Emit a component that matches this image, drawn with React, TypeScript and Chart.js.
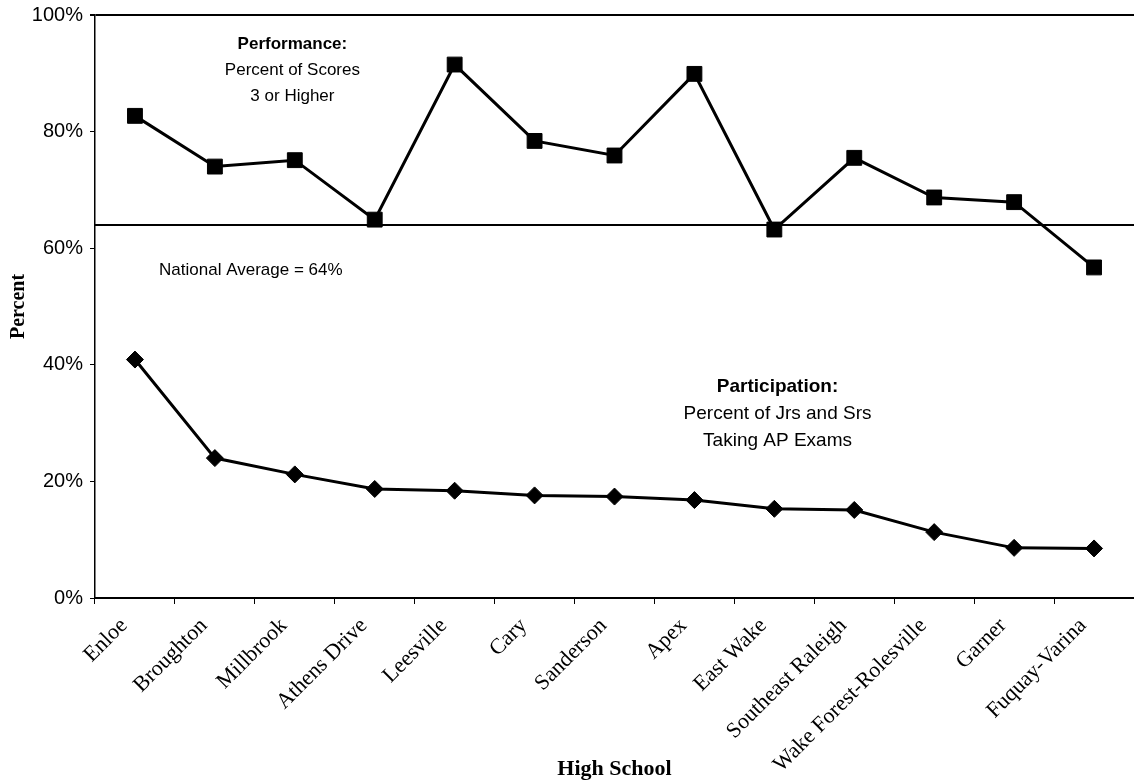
import React, { useEffect, useRef } from 'react';
import { Chart, registerables } from 'chart.js';

Chart.register(...registerables);

const schools = [
  'Enloe',
  'Broughton',
  'Millbrook',
  'Athens Drive',
  'Leesville',
  'Cary',
  'Sanderson',
  'Apex',
  'East Wake',
  'Southeast Raleigh',
  'Wake Forest-Rolesville',
  'Garner',
  'Fuquay-Varina',
];

const performance = [82.7, 74.0, 75.1, 64.9, 91.5, 78.4, 75.9, 89.9, 63.2, 75.5, 68.7, 67.9, 56.7];
const participation = [40.9, 24.0, 21.2, 18.7, 18.4, 17.6, 17.4, 16.8, 15.3, 15.1, 11.3, 8.6, 8.5];
const nationalAverage = 64;

const yTicks = [0, 20, 40, 60, 80, 100];

const performanceNote = ['Performance:', 'Percent of Scores', '3 or Higher'];
const participationNote = ['Participation:', 'Percent of Jrs and Srs', 'Taking AP Exams'];
const averageNote = 'National Average = ' + nationalAverage + '%';

const SANS = '"Liberation Sans", Arial, sans-serif';
const SERIF = '"Liberation Serif", "Times New Roman", serif';

const notesPlugin = {
  id: 'notes',
  beforeDatasetsDraw(chart: any) {
    const { ctx, chartArea, scales } = chart;
    const y = scales.y;
    const py = y.getPixelForValue(nationalAverage);
    ctx.save();
    ctx.strokeStyle = '#000';
    ctx.lineWidth = 2;
    ctx.beginPath();
    ctx.moveTo(chartArea.left, py);
    ctx.lineTo(chartArea.right, py);
    ctx.stroke();
    ctx.restore();
  },
  afterDatasetsDraw(chart: any) {
    const { ctx, scales } = chart;
    const x = scales.x;
    const y = scales.y;
    ctx.save();
    ctx.fillStyle = '#000';
    ctx.textAlign = 'center';
    ctx.textBaseline = 'middle';
    const block = (lines: string[], xi: number, yv: number, size: number, lh: number) => {
      const px = x.getPixelForValue(xi);
      const py = y.getPixelForValue(yv);
      lines.forEach((t, i) => {
        ctx.font = (i === 0 ? 'bold ' : '') + size + 'px ' + SANS;
        ctx.fillText(t, px, py + i * lh);
      });
    };
    block(performanceNote, 1.97, 94.9, 17, 26);
    block(participationNote, 8.04, 36.2, 19, 27);
    ctx.font = '17px ' + SANS;
    ctx.fillText(averageNote, x.getPixelForValue(1.45), y.getPixelForValue(56.2));
    ctx.restore();
  },
};

export default function App() {
  const ref = useRef<HTMLCanvasElement | null>(null);

  useEffect(() => {
    if (!ref.current) return;
    const chart = new Chart(ref.current, {
      type: 'line',
      data: {
        labels: schools,
        datasets: [
          {
            label: 'Performance',
            data: performance,
            borderColor: '#000',
            backgroundColor: '#000',
            borderWidth: 3,
            pointStyle: 'rect',
            pointRadius: 10.5,
            pointBorderWidth: 1,
            pointBackgroundColor: '#000',
            pointBorderColor: '#000',
            tension: 0,
          },
          {
            label: 'Participation',
            data: participation,
            borderColor: '#000',
            backgroundColor: '#000',
            borderWidth: 3,
            pointStyle: 'rectRot',
            pointRadius: 8.5,
            pointBorderWidth: 1,
            pointBackgroundColor: '#000',
            pointBorderColor: '#000',
            tension: 0,
          },
        ],
      },
      options: {
        animation: false,
        responsive: false,
        devicePixelRatio: 1,
        layout: { autoPadding: false, padding: { top: 15, right: 0, bottom: 0, left: 0 } },
        plugins: {
          legend: { display: false },
          tooltip: { enabled: false },
        },
        scales: {
          x: {
            type: 'category',
            offset: true,
            afterFit: (s: any) => {
              s.height = 185;
              s.paddingLeft = 0;
              s.paddingRight = 0;
            },
            grid: {
              offset: true,
              drawOnChartArea: false,
              color: '#000',
              tickColor: '#000',
              tickLength: 6,
              lineWidth: 1,
            },
            border: { color: '#000', width: 2 },
            ticks: {
              color: '#000',
              font: { family: SERIF, size: 22 },
              minRotation: 45,
              maxRotation: 45,
              autoSkip: false,
              padding: 9,
              labelOffset: -11,
            },
            title: {
              display: true,
              text: 'High School',
              color: '#000',
              font: { family: SERIF, size: 22, weight: 'bold' },
              padding: { top: 0, bottom: 0 },
            },
          },
          y: {
            min: 0,
            max: 100,
            afterFit: (s: any) => {
              s.width = 95;
              s.paddingTop = 0;
              s.paddingBottom = 0;
            },
            afterBuildTicks: (s: any) => {
              s.ticks = yTicks.map((v) => ({ value: v }));
            },
            grid: {
              drawOnChartArea: true,
              color: (c: any) => (c.tick && c.tick.value === 100 ? '#000' : 'rgba(0,0,0,0)'),
              tickColor: '#000',
              tickLength: 5,
              lineWidth: (c: any) => (c.tick && c.tick.value === 100 ? 2 : 1),
            },
            border: { color: '#000', width: 1.5 },
            ticks: {
              color: '#000',
              font: { family: SANS, size: 20 },
              padding: 7,
              callback: (v: any) => v + '%',
            },
            title: {
              display: true,
              text: 'Percent',
              color: '#000',
              font: { family: SERIF, size: 20, weight: 'bold' },
              padding: { top: 7, bottom: 7 },
            },
          },
        },
      },
      plugins: [notesPlugin],
    });
    return () => chart.destroy();
  }, []);

  return (
    <div style={{ position: 'fixed', left: 0, top: 0, width: 1134, height: 783, background: '#fff' }}>
      <canvas ref={ref} width={1134} height={783} style={{ width: 1134, height: 783, display: 'block' }} />
    </div>
  );
}
